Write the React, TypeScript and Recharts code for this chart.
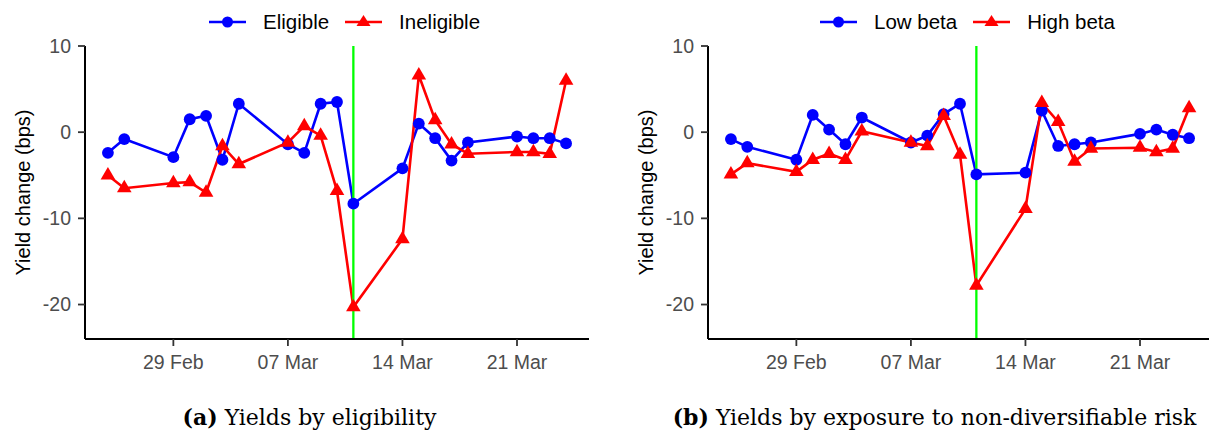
import { Line, LineChart, ReferenceLine, XAxis, YAxis } from "recharts";

// trading days, 2016
const dates = [
  "2016-02-25", "2016-02-26", "2016-02-29", "2016-03-01", "2016-03-02",
  "2016-03-03", "2016-03-04", "2016-03-07", "2016-03-08", "2016-03-09",
  "2016-03-10", "2016-03-11", "2016-03-14", "2016-03-15", "2016-03-16",
  "2016-03-17", "2016-03-18", "2016-03-21", "2016-03-22", "2016-03-23",
  "2016-03-24",
];

const eligible = [
  -2.4, -0.8, -2.9, 1.5, 1.9, -3.2, 3.3, -1.4, -2.4, 3.3, 3.5, -8.3, -4.2, 1.0,
  -0.7, -3.3, -1.2, -0.5, -0.7, -0.7, -1.3,
];
const ineligible = [
  -5.0, -6.5, -5.9, -5.8, -7.0, -1.6, -3.7, -1.2, 0.7, -0.4, -6.8, -20.3, -12.4,
  6.6, 1.4, -1.4, -2.5, -2.3, -2.3, -2.5, 6.0,
];
const lowBeta = [
  -0.8, -1.7, -3.2, 2.0, 0.3, -1.4, 1.7, -1.2, -0.4, 2.1, 3.3, -4.9, -4.7, 2.5,
  -1.6, -1.4, -1.2, -0.2, 0.3, -0.3, -0.7,
];
const highBeta = [
  -4.9, -3.6, -4.6, -3.2, -2.5, -3.2, 0.1, -1.2, -1.6, 1.9, -2.6, -17.8, -8.9,
  3.4, 1.2, -3.4, -1.9, -1.8, -2.3, -1.9, 2.8,
];

const tickDates = ["2016-02-29", "2016-03-07", "2016-03-14", "2016-03-21"];
const yTicks = [-20, -10, 0, 10];
const announcement = "2016-03-11";
const months = ["Jan", "Feb", "Mar", "Apr"];

const BLUE = "#0000FF";
const RED = "#FF0000";
const SANS = '"Liberation Sans", Arial, sans-serif';
const SERIF = '"DejaVu Serif", "Liberation Serif", serif';

function toDay(s: string) {
  const [y, m, d] = s.split("-").map(Number);
  return Date.UTC(y, m - 1, d) / 86400000;
}

function fmtDay(v: number) {
  const dt = new Date(v * 86400000);
  const dd = String(dt.getUTCDate()).padStart(2, "0");
  return `${dd} ${months[dt.getUTCMonth()]}`;
}

const days = dates.map(toDay);
const pad = (days[days.length - 1] - days[0]) * 0.05;
const xDomain = [days[0] - pad, days[days.length - 1] + pad];

function TriangleDot(props: any) {
  const { cx, cy, fill } = props;
  if (cx == null || cy == null) return <g />;
  const h = 12.5;
  const w = 7.3;
  return (
    <path
      d={`M${cx},${cy - (h * 2) / 3} L${cx + w},${cy + h / 3} L${cx - w},${cy + h / 3} Z`}
      fill={fill}
    />
  );
}

function YTitle(props: any) {
  const vb = props.viewBox || { x: 0, y: 0, height: 0 };
  const x = vb.x + 23;
  const y = vb.y + vb.height / 2;
  return (
    <text
      x={x}
      y={y}
      transform={`rotate(-90, ${x}, ${y})`}
      textAnchor="middle"
      dominantBaseline="central"
      fill="#000"
      style={{ fontFamily: SANS, fontSize: 20 }}
    >
      Yield change (bps)
    </text>
  );
}

function LegendKey({ color, shape }: { color: string; shape: "circle" | "triangle" }) {
  return (
    <svg width={37} height={24} style={{ display: "block" }}>
      <line x1={0} x2={37} y1={12} y2={12} stroke={color} strokeWidth={2.5} />
      {shape === "circle" ? (
        <circle cx={18.5} cy={12} r={5.5} fill={color} />
      ) : (
        <path d="M18.5,5 L25.5,16 L11.5,16 Z" fill={color} />
      )}
    </svg>
  );
}

interface PanelProps {
  left: number;
  legendLeft: number;
  names: [string, string];
  blue: number[];
  red: number[];
}

function Panel({ left, legendLeft, names, blue, red }: PanelProps) {
  const rows = days.map((day, i) => ({ day, blue: blue[i], red: red[i] }));
  return (
    <>
      <div
        style={{
          position: "absolute",
          left: legendLeft,
          top: 10,
          display: "flex",
          alignItems: "center",
          fontFamily: SANS,
          fontSize: 20.5,
          lineHeight: "24px",
          color: "#000",
          whiteSpace: "nowrap",
        }}
      >
        <LegendKey color={BLUE} shape="circle" />
        <span style={{ marginLeft: 17 }}>{names[0]}</span>
        <div style={{ marginLeft: 16 }}>
          <LegendKey color={RED} shape="triangle" />
        </div>
        <span style={{ marginLeft: 17 }}>{names[1]}</span>
      </div>
      <div style={{ position: "absolute", left, top: 0 }}>
        <LineChart
          width={600}
          height={433}
          data={rows}
          margin={{ top: 46, right: 11, bottom: 64, left: 0 }}
        >
          <XAxis
            dataKey="day"
            type="number"
            domain={xDomain}
            ticks={tickDates.map(toDay)}
            interval={0}
            tickFormatter={fmtDay}
            height={30}
            tickSize={7}
            tickMargin={9}
            axisLine={{ stroke: "#000", strokeWidth: 2 }}
            tickLine={{ stroke: "#333", strokeWidth: 1.8 }}
            tick={{ fill: "#4D4D4D", fontSize: 19.5, fontFamily: SANS }}
          />
          <YAxis
            type="number"
            domain={[-24, 10]}
            ticks={yTicks}
            interval={0}
            width={85}
            tickSize={7}
            tickMargin={7}
            axisLine={{ stroke: "#000", strokeWidth: 2 }}
            tickLine={{ stroke: "#333", strokeWidth: 1.8 }}
            tick={{ fill: "#4D4D4D", fontSize: 19.5, fontFamily: SANS }}
            label={YTitle}
          />
          <Line
            dataKey="blue"
            stroke={BLUE}
            strokeWidth={2.6}
            dot={{ r: 5.9, fill: BLUE, strokeWidth: 0 }}
            activeDot={false}
            isAnimationActive={false}
          />
          <Line
            dataKey="red"
            stroke={RED}
            strokeWidth={2.6}
            dot={(p: any) => <TriangleDot key={p.index} {...p} fill={RED} />}
            activeDot={false}
            isAnimationActive={false}
          />
          <ReferenceLine x={toDay(announcement)} stroke="#00FF00" strokeWidth={2.3} />
        </LineChart>
      </div>
    </>
  );
}

function Caption({ center, tag, text }: { center: number; tag: string; text: string }) {
  return (
    <div
      style={{
        position: "absolute",
        left: center - 300,
        width: 600,
        top: 403,
        textAlign: "center",
        fontFamily: SERIF,
        fontSize: 22,
        lineHeight: "28px",
        color: "#000",
        whiteSpace: "nowrap",
      }}
    >
      <b>{tag}</b> {text}
    </div>
  );
}

export default function App() {
  return (
    <div
      style={{
        position: "absolute",
        left: 0,
        top: 0,
        width: 1209,
        height: 433,
        overflow: "hidden",
        background: "#fff",
      }}
    >
      <Panel left={0} legendLeft={209} names={["Eligible", "Ineligible"]} blue={eligible} red={ineligible} />
      <Panel left={623} legendLeft={820} names={["Low beta", "High beta"]} blue={lowBeta} red={highBeta} />
      <Caption center={309.5} tag="(a)" text="Yields by eligibility" />
      <Caption center={934.5} tag="(b)" text="Yields by exposure to non-diversifiable risk" />
    </div>
  );
}
